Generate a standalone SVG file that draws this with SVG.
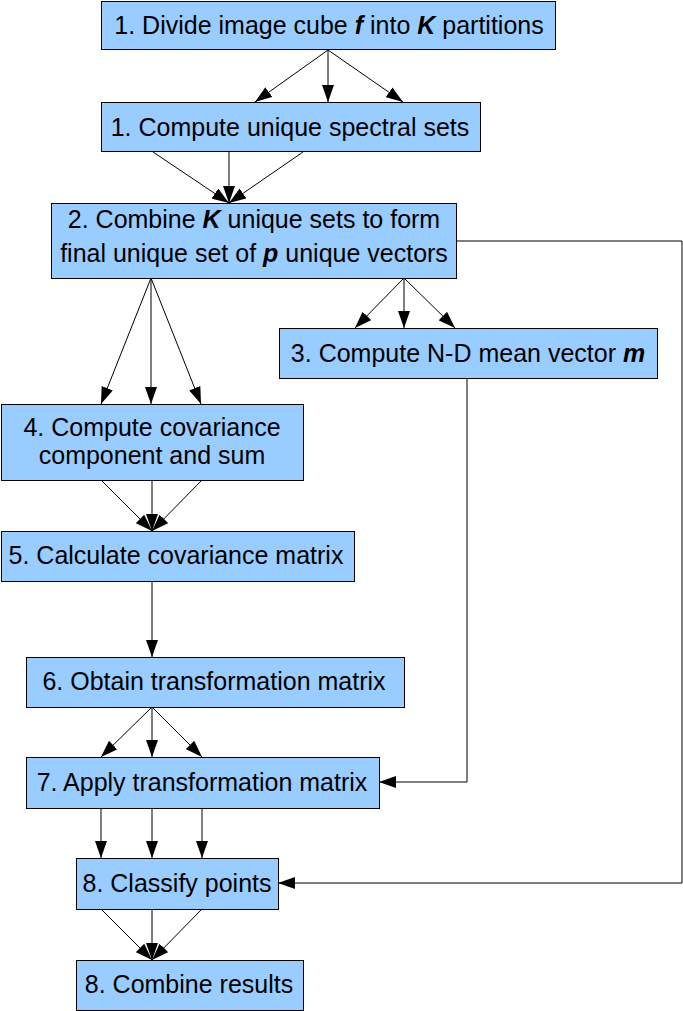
<svg xmlns="http://www.w3.org/2000/svg" width="683" height="1011" viewBox="0 0 683 1011">
<style>
.box{fill:#99ccff;stroke:#000;stroke-width:1}
.t{font-family:"Liberation Sans",Arial,sans-serif;font-size:25px;fill:#000;text-anchor:middle}
.bi{font-weight:bold;font-style:italic}
.c{fill:none;stroke:#000;stroke-width:1}
</style>
<defs>
<marker id="ah" markerUnits="userSpaceOnUse" markerWidth="17" markerHeight="12" refX="17" refY="6" orient="auto">
<path d="M0,0 L17,6 L0,12 z" fill="#000"/>
</marker>
</defs>
<g id="connectors">
<path class="c" marker-end="url(#ah)" d="M328,50 L255,102"/>
<path class="c" marker-end="url(#ah)" d="M328,50 L328,102"/>
<path class="c" marker-end="url(#ah)" d="M328,50 L403,102"/>
<path class="c" marker-end="url(#ah)" d="M153,152 L229,203"/>
<path class="c" marker-end="url(#ah)" d="M229,152 L229,203"/>
<path class="c" marker-end="url(#ah)" d="M303,152 L229,203"/>
<path class="c" marker-end="url(#ah)" d="M151,278 L101,404"/>
<path class="c" marker-end="url(#ah)" d="M151,278 L151,404"/>
<path class="c" marker-end="url(#ah)" d="M151,278 L201,404"/>
<path class="c" marker-end="url(#ah)" d="M404,278 L355,328"/>
<path class="c" marker-end="url(#ah)" d="M404,278 L404,328"/>
<path class="c" marker-end="url(#ah)" d="M404,278 L455,328"/>
<path class="c" marker-end="url(#ah)" d="M467,379 L467,782 L379,782"/>
<path class="c" marker-end="url(#ah)" d="M456,241 L682,241 L682,883 L278,883"/>
<path class="c" marker-end="url(#ah)" d="M101,480 L152,531"/>
<path class="c" marker-end="url(#ah)" d="M152,480 L152,531"/>
<path class="c" marker-end="url(#ah)" d="M202,480 L152,531"/>
<path class="c" marker-end="url(#ah)" d="M152,581 L152,657"/>
<path class="c" marker-end="url(#ah)" d="M152,707 L101,757"/>
<path class="c" marker-end="url(#ah)" d="M152,707 L152,757"/>
<path class="c" marker-end="url(#ah)" d="M152,707 L202,757"/>
<path class="c" marker-end="url(#ah)" d="M101,808 L101,858"/>
<path class="c" marker-end="url(#ah)" d="M152,808 L152,858"/>
<path class="c" marker-end="url(#ah)" d="M202,808 L202,858"/>
<path class="c" marker-end="url(#ah)" d="M101,909 L152,960"/>
<path class="c" marker-end="url(#ah)" d="M152,909 L152,960"/>
<path class="c" marker-end="url(#ah)" d="M202,909 L152,960"/>
</g>
<g id="n1"><rect class="box" x="101.5" y="1.5" width="454" height="48"/>
<text class="t" x="329" y="34">1. Divide image cube <tspan class="bi">f</tspan> into <tspan class="bi">K</tspan> partitions</text></g>
<g id="n2"><rect class="box" x="101.5" y="102.5" width="379" height="49"/>
<text class="t" x="290" y="136">1. Compute unique spectral sets</text></g>
<g id="n3"><rect class="box" x="51.5" y="203.5" width="405" height="75"/>
<text class="t" x="254" y="228">2. Combine <tspan class="bi">K</tspan> unique sets to form</text>
<text class="t" x="254" y="262">final unique set of <tspan class="bi">p</tspan> unique vectors</text></g>
<g id="n4"><rect class="box" x="279.5" y="328.5" width="378" height="50"/>
<text class="t" x="468" y="362">3. Compute N-D mean vector <tspan class="bi">m</tspan></text></g>
<g id="n5"><rect class="box" x="1.5" y="404.5" width="302" height="76"/>
<text class="t" x="152" y="436">4. Compute covariance</text>
<text class="t" x="152" y="464">component and sum</text></g>
<g id="n6"><rect class="box" x="1.5" y="531.5" width="353" height="50"/>
<text class="t" x="176" y="564">5. Calculate covariance matrix</text></g>
<g id="n7"><rect class="box" x="26.5" y="657.5" width="378" height="50"/>
<text class="t" x="214" y="690">6. Obtain transformation matrix</text></g>
<g id="n8"><rect class="box" x="26.5" y="757.5" width="353" height="51"/>
<text class="t" x="202" y="791">7. Apply transformation matrix</text></g>
<g id="n9"><rect class="box" x="76.5" y="858.5" width="202" height="51"/>
<text class="t" x="177" y="892">8. Classify points</text></g>
<g id="n10"><rect class="box" x="76.5" y="960.5" width="227" height="50"/>
<text class="t" x="189" y="993">8. Combine results</text></g>
</svg>
